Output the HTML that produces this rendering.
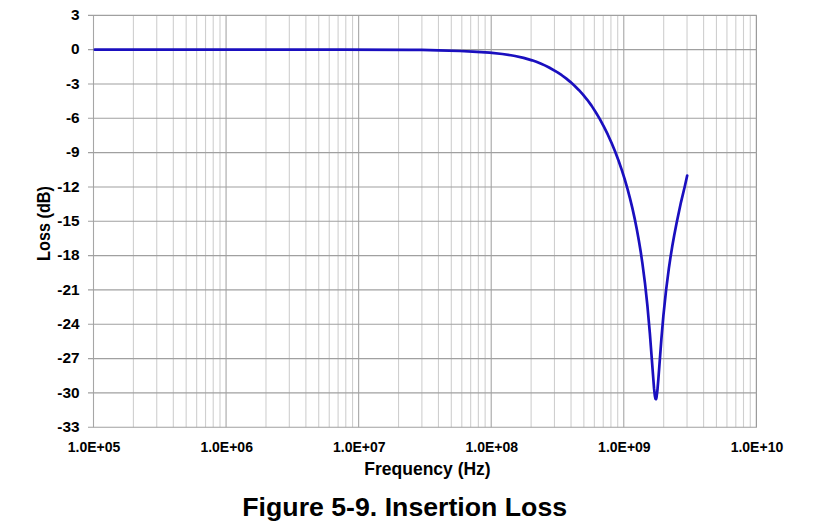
<!DOCTYPE html>
<html><head><meta charset="utf-8"><title>Figure 5-9. Insertion Loss</title><style>
html,body{margin:0;padding:0;background:#fff;width:827px;height:523px;overflow:hidden}
svg{display:block}
.t{font-family:"Liberation Sans",sans-serif;font-weight:bold;font-size:14px;fill:#000}
.at{font-family:"Liberation Sans",sans-serif;font-weight:bold;font-size:17.5px;fill:#000}
.ti{font-family:"Liberation Sans",sans-serif;font-weight:bold;font-size:26.7px;fill:#000}
</style></head><body><svg width="827" height="523" viewBox="0 0 827 523">
<line x1="133.41" y1="15.30" x2="133.41" y2="427.26" stroke="#cfcfcf" stroke-width="1.1"/>
<line x1="156.75" y1="15.30" x2="156.75" y2="427.26" stroke="#cfcfcf" stroke-width="1.1"/>
<line x1="173.32" y1="15.30" x2="173.32" y2="427.26" stroke="#cfcfcf" stroke-width="1.1"/>
<line x1="186.16" y1="15.30" x2="186.16" y2="427.26" stroke="#cfcfcf" stroke-width="1.1"/>
<line x1="196.66" y1="15.30" x2="196.66" y2="427.26" stroke="#cfcfcf" stroke-width="1.1"/>
<line x1="205.53" y1="15.30" x2="205.53" y2="427.26" stroke="#cfcfcf" stroke-width="1.1"/>
<line x1="213.22" y1="15.30" x2="213.22" y2="427.26" stroke="#cfcfcf" stroke-width="1.1"/>
<line x1="220.00" y1="15.30" x2="220.00" y2="427.26" stroke="#cfcfcf" stroke-width="1.1"/>
<line x1="265.98" y1="15.30" x2="265.98" y2="427.26" stroke="#cfcfcf" stroke-width="1.1"/>
<line x1="289.32" y1="15.30" x2="289.32" y2="427.26" stroke="#cfcfcf" stroke-width="1.1"/>
<line x1="305.89" y1="15.30" x2="305.89" y2="427.26" stroke="#cfcfcf" stroke-width="1.1"/>
<line x1="318.73" y1="15.30" x2="318.73" y2="427.26" stroke="#cfcfcf" stroke-width="1.1"/>
<line x1="329.23" y1="15.30" x2="329.23" y2="427.26" stroke="#cfcfcf" stroke-width="1.1"/>
<line x1="338.10" y1="15.30" x2="338.10" y2="427.26" stroke="#cfcfcf" stroke-width="1.1"/>
<line x1="345.79" y1="15.30" x2="345.79" y2="427.26" stroke="#cfcfcf" stroke-width="1.1"/>
<line x1="352.57" y1="15.30" x2="352.57" y2="427.26" stroke="#cfcfcf" stroke-width="1.1"/>
<line x1="398.55" y1="15.30" x2="398.55" y2="427.26" stroke="#cfcfcf" stroke-width="1.1"/>
<line x1="421.89" y1="15.30" x2="421.89" y2="427.26" stroke="#cfcfcf" stroke-width="1.1"/>
<line x1="438.46" y1="15.30" x2="438.46" y2="427.26" stroke="#cfcfcf" stroke-width="1.1"/>
<line x1="451.30" y1="15.30" x2="451.30" y2="427.26" stroke="#cfcfcf" stroke-width="1.1"/>
<line x1="461.80" y1="15.30" x2="461.80" y2="427.26" stroke="#cfcfcf" stroke-width="1.1"/>
<line x1="470.67" y1="15.30" x2="470.67" y2="427.26" stroke="#cfcfcf" stroke-width="1.1"/>
<line x1="478.36" y1="15.30" x2="478.36" y2="427.26" stroke="#cfcfcf" stroke-width="1.1"/>
<line x1="485.14" y1="15.30" x2="485.14" y2="427.26" stroke="#cfcfcf" stroke-width="1.1"/>
<line x1="531.12" y1="15.30" x2="531.12" y2="427.26" stroke="#cfcfcf" stroke-width="1.1"/>
<line x1="554.46" y1="15.30" x2="554.46" y2="427.26" stroke="#cfcfcf" stroke-width="1.1"/>
<line x1="571.03" y1="15.30" x2="571.03" y2="427.26" stroke="#cfcfcf" stroke-width="1.1"/>
<line x1="583.87" y1="15.30" x2="583.87" y2="427.26" stroke="#cfcfcf" stroke-width="1.1"/>
<line x1="594.37" y1="15.30" x2="594.37" y2="427.26" stroke="#cfcfcf" stroke-width="1.1"/>
<line x1="603.24" y1="15.30" x2="603.24" y2="427.26" stroke="#cfcfcf" stroke-width="1.1"/>
<line x1="610.93" y1="15.30" x2="610.93" y2="427.26" stroke="#cfcfcf" stroke-width="1.1"/>
<line x1="617.71" y1="15.30" x2="617.71" y2="427.26" stroke="#cfcfcf" stroke-width="1.1"/>
<line x1="663.69" y1="15.30" x2="663.69" y2="427.26" stroke="#cfcfcf" stroke-width="1.1"/>
<line x1="687.03" y1="15.30" x2="687.03" y2="427.26" stroke="#cfcfcf" stroke-width="1.1"/>
<line x1="703.60" y1="15.30" x2="703.60" y2="427.26" stroke="#cfcfcf" stroke-width="1.1"/>
<line x1="716.44" y1="15.30" x2="716.44" y2="427.26" stroke="#cfcfcf" stroke-width="1.1"/>
<line x1="726.94" y1="15.30" x2="726.94" y2="427.26" stroke="#cfcfcf" stroke-width="1.1"/>
<line x1="735.81" y1="15.30" x2="735.81" y2="427.26" stroke="#cfcfcf" stroke-width="1.1"/>
<line x1="743.50" y1="15.30" x2="743.50" y2="427.26" stroke="#cfcfcf" stroke-width="1.1"/>
<line x1="750.28" y1="15.30" x2="750.28" y2="427.26" stroke="#cfcfcf" stroke-width="1.1"/>
<line x1="93.50" y1="15.30" x2="93.50" y2="427.26" stroke="#a6a6a6" stroke-width="1.1"/>
<line x1="226.07" y1="15.30" x2="226.07" y2="427.26" stroke="#a6a6a6" stroke-width="1.1"/>
<line x1="358.64" y1="15.30" x2="358.64" y2="427.26" stroke="#a6a6a6" stroke-width="1.1"/>
<line x1="491.21" y1="15.30" x2="491.21" y2="427.26" stroke="#a6a6a6" stroke-width="1.1"/>
<line x1="623.78" y1="15.30" x2="623.78" y2="427.26" stroke="#a6a6a6" stroke-width="1.1"/>
<line x1="756.35" y1="15.30" x2="756.35" y2="427.26" stroke="#909090" stroke-width="1.1"/>
<line x1="88" y1="15.30" x2="756.85" y2="15.30" stroke="#a0a0a0" stroke-width="1.15"/>
<line x1="88" y1="49.63" x2="756.85" y2="49.63" stroke="#a0a0a0" stroke-width="1.15"/>
<line x1="88" y1="83.96" x2="756.85" y2="83.96" stroke="#a0a0a0" stroke-width="1.15"/>
<line x1="88" y1="118.29" x2="756.85" y2="118.29" stroke="#a0a0a0" stroke-width="1.15"/>
<line x1="88" y1="152.62" x2="756.85" y2="152.62" stroke="#a0a0a0" stroke-width="1.15"/>
<line x1="88" y1="186.95" x2="756.85" y2="186.95" stroke="#a0a0a0" stroke-width="1.15"/>
<line x1="88" y1="221.28" x2="756.85" y2="221.28" stroke="#a0a0a0" stroke-width="1.15"/>
<line x1="88" y1="255.61" x2="756.85" y2="255.61" stroke="#a0a0a0" stroke-width="1.15"/>
<line x1="88" y1="289.94" x2="756.85" y2="289.94" stroke="#a0a0a0" stroke-width="1.15"/>
<line x1="88" y1="324.27" x2="756.85" y2="324.27" stroke="#a0a0a0" stroke-width="1.15"/>
<line x1="88" y1="358.60" x2="756.85" y2="358.60" stroke="#a0a0a0" stroke-width="1.15"/>
<line x1="88" y1="392.93" x2="756.85" y2="392.93" stroke="#a0a0a0" stroke-width="1.15"/>
<line x1="88" y1="427.26" x2="756.85" y2="427.26" stroke="#a0a0a0" stroke-width="1.15"/>
<text transform="translate(79.6,20.10) scale(1.1,1)" text-anchor="end" class="t">3</text>
<text transform="translate(79.6,54.43) scale(1.1,1)" text-anchor="end" class="t">0</text>
<text transform="translate(79.6,88.76) scale(1.1,1)" text-anchor="end" class="t">-3</text>
<text transform="translate(79.6,123.09) scale(1.1,1)" text-anchor="end" class="t">-6</text>
<text transform="translate(79.6,157.42) scale(1.1,1)" text-anchor="end" class="t">-9</text>
<text transform="translate(79.6,191.75) scale(1.1,1)" text-anchor="end" class="t">-12</text>
<text transform="translate(79.6,226.08) scale(1.1,1)" text-anchor="end" class="t">-15</text>
<text transform="translate(79.6,260.41) scale(1.1,1)" text-anchor="end" class="t">-18</text>
<text transform="translate(79.6,294.74) scale(1.1,1)" text-anchor="end" class="t">-21</text>
<text transform="translate(79.6,329.07) scale(1.1,1)" text-anchor="end" class="t">-24</text>
<text transform="translate(79.6,363.40) scale(1.1,1)" text-anchor="end" class="t">-27</text>
<text transform="translate(79.6,397.73) scale(1.1,1)" text-anchor="end" class="t">-30</text>
<text transform="translate(79.6,432.06) scale(1.1,1)" text-anchor="end" class="t">-33</text>
<text x="94.10" y="452.3" text-anchor="middle" class="t">1.0E+05</text>
<text x="226.67" y="452.3" text-anchor="middle" class="t">1.0E+06</text>
<text x="359.24" y="452.3" text-anchor="middle" class="t">1.0E+07</text>
<text x="491.81" y="452.3" text-anchor="middle" class="t">1.0E+08</text>
<text x="624.38" y="452.3" text-anchor="middle" class="t">1.0E+09</text>
<text x="756.95" y="452.3" text-anchor="middle" class="t">1.0E+10</text>
<path d="M94.80,49.69 L341.03,49.70 L408.96,49.83 L421.69,49.93 L438.68,50.34 L459.90,50.99 L472.64,51.54 L489.62,52.68 L502.36,54.02 L510.85,55.25 L515.09,56.00 L523.58,57.87 L532.07,60.34 L536.32,61.83 L540.56,63.50 L544.81,65.39 L549.06,67.52 L557.55,72.42 L561.79,75.22 L566.04,78.35 L570.28,81.86 L574.53,85.70 L578.77,89.92 L583.02,94.61 L587.26,99.81 L591.51,105.63 L595.75,112.19 L600.00,119.39 L603.99,126.82 L607.86,134.68 L611.60,143.00 L615.22,151.79 L618.59,160.73 L621.83,170.14 L624.83,179.65 L627.57,189.17 L630.06,198.63 L632.43,208.44 L634.68,218.63 L636.80,229.21 L638.80,240.18 L640.67,251.56 L642.41,263.34 L645.03,283.67 L647.40,305.68 L649.90,333.81 L654.02,388.22 L654.89,396.10 L655.39,398.55 L655.76,399.21 L655.89,399.20 L656.14,398.81 L656.51,397.37 L657.38,390.56 L658.38,378.85 L661.38,339.03 L663.37,315.97 L665.99,290.83 L668.86,268.34 L670.48,257.35 L672.35,245.83 L674.23,235.32 L676.60,223.06 L680.96,202.34 L684.95,185.73 L687.20,175.57" fill="none" stroke="#1a0fbf" stroke-width="2.7" stroke-linejoin="round" stroke-linecap="round"/>
<text x="427.5" y="475.0" text-anchor="middle" class="at">Frequency (Hz)</text>
<text transform="translate(49.8,223.5) rotate(-90) scale(0.93,1)" text-anchor="middle" class="at">Loss (dB)</text>
<text x="404.7" y="516.0" text-anchor="middle" class="ti">Figure 5-9. Insertion Loss</text>
</svg></body></html>
